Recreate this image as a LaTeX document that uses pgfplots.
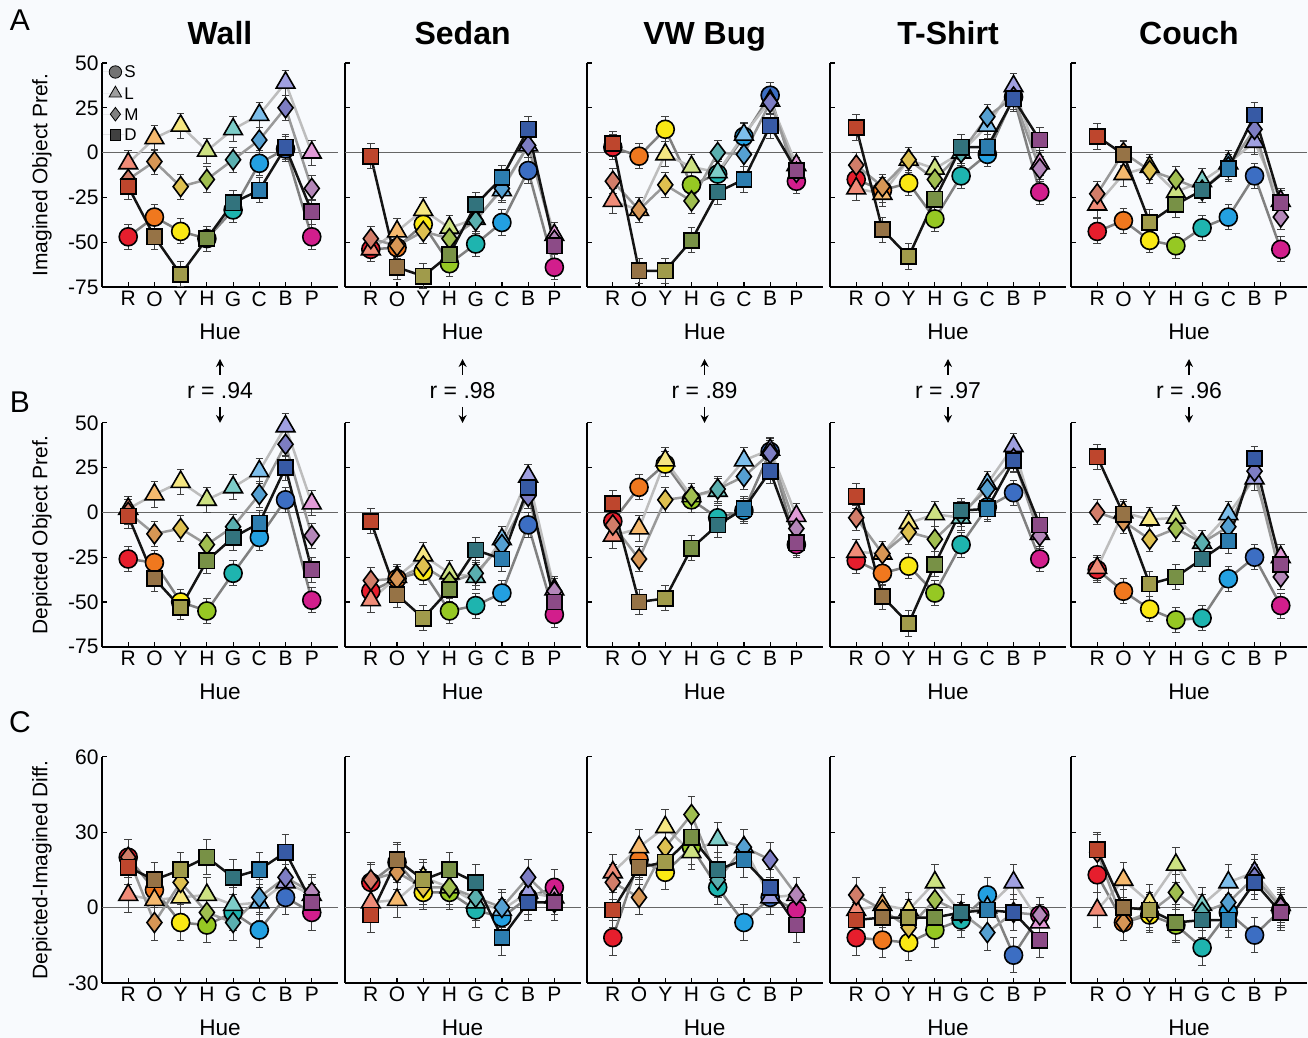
\documentclass[border=0pt]{standalone}
\usepackage{pgfplots}
\pgfplotsset{compat=1.18}
\usepackage{pgfplotstable}
\usepackage{fontspec}
\setmainfont{Liberation Sans}
\usetikzlibrary{arrows.meta}

\definecolor{bg}{RGB}{248,250,253}
\definecolor{lineS}{gray}{0.50}
\definecolor{lineL}{gray}{0.74}
\definecolor{lineM}{gray}{0.60}
\definecolor{lineD}{gray}{0.08}
% saturated
\definecolor{cS0}{RGB}{230,30,45}\definecolor{cS1}{RGB}{240,120,30}\definecolor{cS2}{RGB}{250,232,20}\definecolor{cS3}{RGB}{150,200,35}
\definecolor{cS4}{RGB}{30,180,175}\definecolor{cS5}{RGB}{35,160,225}\definecolor{cS6}{RGB}{60,110,195}\definecolor{cS7}{RGB}{210,30,140}
% light
\definecolor{cL0}{RGB}{240,140,120}\definecolor{cL1}{RGB}{245,185,110}\definecolor{cL2}{RGB}{245,230,130}\definecolor{cL3}{RGB}{205,225,130}
\definecolor{cL4}{RGB}{125,205,200}\definecolor{cL5}{RGB}{125,190,235}\definecolor{cL6}{RGB}{160,160,225}\definecolor{cL7}{RGB}{225,155,215}
% muted
\definecolor{cM0}{RGB}{210,125,105}\definecolor{cM1}{RGB}{215,150,85}\definecolor{cM2}{RGB}{222,192,80}\definecolor{cM3}{RGB}{160,190,80}
\definecolor{cM4}{RGB}{90,175,175}\definecolor{cM5}{RGB}{85,160,210}\definecolor{cM6}{RGB}{125,125,195}\definecolor{cM7}{RGB}{180,135,185}
% dark
\definecolor{cD0}{RGB}{190,70,45}\definecolor{cD1}{RGB}{150,115,70}\definecolor{cD2}{RGB}{160,155,75}\definecolor{cD3}{RGB}{120,145,70}
\definecolor{cD4}{RGB}{50,115,125}\definecolor{cD5}{RGB}{45,125,175}\definecolor{cD6}{RGB}{55,90,165}\definecolor{cD7}{RGB}{140,75,135}

% ---------------- data (x: 0=R,1=O,2=Y,3=H,4=G,5=C,6=B,7=P) ----------------
\pgfplotstableread{
x S L M D
0 -47 -6 -15 -19
1 -36 8 -5 -47
2 -44 15 -19 -68
3 -48 1 -15 -48
4 -32 13 -4 -28
5 -6 21 7 -21
6 2 39 25 3
7 -47 0 -20 -33
}\WallA
\pgfplotstableread{
x S L M D
0 -54 -54 -48 -2
1 -53 -44 -52 -64
2 -40 -32 -44 -69
3 -62 -42 -48 -57
4 -51 -37 -38 -29
5 -39 -21 -20 -14
6 -10 4 4 13
7 -64 -46 -49 -52
}\SedanA
\pgfplotstableread{
x S L M D
0 3 -27 -16 5
1 -2 -32 -32 -66
2 13 -1 -18 -66
3 -18 -8 -27 -49
4 -12 -11 0 -22
5 9 10 -1 -15
6 32 29 28 15
7 -16 -7 -11 -10
}\BugA
\pgfplotstableread{
x S L M D
0 -15 -20 -7 14
1 -21 -23 -19 -43
2 -17 -4 -4 -58
3 -37 -9 -15 -26
4 -13 0 0 3
5 -1 15 20 3
6 31 37 31 30
7 -22 -6 -9 7
}\ShirtA
\pgfplotstableread{
x S L M D
0 -44 -29 -23 9
1 -38 -12 0 -1
2 -49 -8 -10 -39
3 -52 -22 -15 -29
4 -42 -16 -21 -21
5 -36 -6 -8 -9
6 -13 6 13 21
7 -54 -27 -36 -28
}\CouchA
\pgfplotstableread{
x S L M D
0 -26 2 0 -2
1 -28 10 -12 -37
2 -50 17 -9 -53
3 -55 7 -18 -27
4 -34 14 -8 -14
5 -14 23 10 -6
6 7 48 38 25
7 -49 5 -13 -32
}\WallB
\pgfplotstableread{
x S L M D
0 -44 -49 -38 -5
1 -37 -36 -37 -46
2 -33 -24 -30 -59
3 -55 -34 -39 -43
4 -52 -36 -34 -21
5 -45 -15 -18 -26
6 -7 20 9 14
7 -57 -43 -44 -50
}\SedanB
\pgfplotstableread{
x S L M D
0 -5 -13 -7 5
1 14 -9 -26 -50
2 27 29 7 -48
3 7 9 9 -20
4 -3 12 13 -7
5 1 29 20 2
6 34 35 33 23
7 -18 -2 -9 -17
}\BugB
\pgfplotstableread{
x S L M D
0 -27 -22 -3 9
1 -34 -23 -23 -47
2 -30 -6 -11 -62
3 -45 -1 -15 -29
4 -18 -3 -1 1
5 3 16 13 2
6 11 37 30 29
7 -26 -12 -13 -7
}\ShirtB
\pgfplotstableread{
x S L M D
0 -32 -31 0 31
1 -44 0 -5 -1
2 -54 -4 -15 -40
3 -60 -3 -9 -36
4 -59 -17 -17 -26
5 -37 -1 -8 -16
6 -25 19 23 30
7 -52 -25 -36 -29
}\CouchB
\pgfplotstableread{
x S L M D
0 20 5 20 16
1 7 3 -6 11
2 -6 4 10 15
3 -7 5 -2 20
4 -2 1 -6 12
5 -9 2 4 15
6 4 10 12 22
7 -2 5 6 2
}\WallC
\pgfplotstableread{
x S L M D
0 10 2 11 -3
1 18 3 14 19
2 6 12 8 11
3 6 8 8 15
4 -1 2 4 10
5 -4 -1 0 -12
6 4 6 12 2
7 8 4 2 2
}\SedanC
\pgfplotstableread{
x S L M D
0 -12 14 10 -1
1 19 24 4 16
2 14 32 24 18
3 24 22 37 28
4 8 27 11 15
5 -6 24 24 19
6 4 4 19 8
7 -1 5 5 -7
}\BugC
\pgfplotstableread{
x S L M D
0 -12 -1 5 -5
1 -13 1 -1 -4
2 -14 -1 -8 -4
3 -9 10 3 -4
4 -5 -2 -2 -2
5 5 0 -10 -1
6 -19 10 -2 -2
7 -3 -6 -3 -13
}\ShirtC
\pgfplotstableread{
x S L M D
0 13 -1 22 23
1 -6 11 -6 0
2 -3 2 -2 -1
3 -7 17 6 -6
4 -16 1 -2 -5
5 -2 10 2 -5
6 -11 14 12 10
7 -1 1 0 -2
}\CouchC

\pgfplotsset{
 ser/.style={forget plot, scatter, point meta=explicit symbolic, line width=1.25pt,
   mark options={line width=0.8pt, solid},
   error bars/y dir=both,
   error bars/error bar style={line width=0.5pt, black!75},
   error bars/error mark options={rotate=90, mark size=1.9pt, line width=0.5pt, black!75}},
 sS/.style={ser, draw=lineS, mark=*, mark size=4.5pt,
   scatter/classes={0={draw=black,fill=cS0},1={draw=black,fill=cS1},2={draw=black,fill=cS2},3={draw=black,fill=cS3},
                    4={draw=black,fill=cS4},5={draw=black,fill=cS5},6={draw=black,fill=cS6},7={draw=black,fill=cS7}}},
 sL/.style={ser, draw=lineL, mark=triangle*, mark size=5.4pt,
   scatter/classes={0={draw=black,fill=cL0},1={draw=black,fill=cL1},2={draw=black,fill=cL2},3={draw=black,fill=cL3},
                    4={draw=black,fill=cL4},5={draw=black,fill=cL5},6={draw=black,fill=cL6},7={draw=black,fill=cL7}}},
 sM/.style={ser, draw=lineM, mark=diamond*, mark size=5pt,
   scatter/classes={0={draw=black,fill=cM0},1={draw=black,fill=cM1},2={draw=black,fill=cM2},3={draw=black,fill=cM3},
                    4={draw=black,fill=cM4},5={draw=black,fill=cM5},6={draw=black,fill=cM6},7={draw=black,fill=cM7}}},
 sD/.style={ser, draw=lineD, mark=square*, mark size=3.8pt,
   scatter/classes={0={draw=black,fill=cD0},1={draw=black,fill=cD1},2={draw=black,fill=cD2},3={draw=black,fill=cD3},
                    4={draw=black,fill=cD4},5={draw=black,fill=cD5},6={draw=black,fill=cD6},7={draw=black,fill=cD7}}},
 panel/.style={
   scale only axis, width=118pt, anchor=south west, clip=false,
   xmin=-1, xmax=8, axis lines*=left,
   axis line style={line width=0.9pt, black},
   xtick={0,...,7}, xticklabels={R,O,Y,H,G,C,B,P},
   tick align=inside, major tick length=2.5pt,
   tick style={line width=0.6pt, black},
   tick label style={font=\fontsize{10.5}{12}\selectfont},
   /pgf/number format/assume math mode=true,
   xticklabel style={inner sep=1pt, yshift=-1pt},
   yticklabel style={inner sep=1.5pt},
   xlabel={Hue},
   xlabel style={font=\fontsize{11.3}{13}\selectfont, at={(axis description cs:0.5,0)}, anchor=center, yshift=-22.5pt},
 },
 rowAB/.style={height=112pt, ymin=-75, ymax=50, ytick={-75,-50,-25,0,25,50}},
 rowC/.style={height=113pt, ymin=-30, ymax=60, ytick={-30,0,30,60}},
 noyl/.style={yticklabels={}},
}

\newcommand\panel[6]{%
\begin{axis}[panel, at={(#1,#2)}, #4]
\addplot[forget plot, no markers, black!60, line width=0.6pt] coordinates {(-1,0) (8,0)};
\addplot[sS, error bars/y fixed=#5] table[x=x,y=S,meta=x] {#3};
\addplot[sL, error bars/y fixed=#5] table[x=x,y=L,meta=x] {#3};
\addplot[sM, error bars/y fixed=#5] table[x=x,y=M,meta=x] {#3};
\addplot[sD, error bars/y fixed=#5] table[x=x,y=D,meta=x] {#3};
#6
\end{axis}}

\begin{document}
\begin{tikzpicture}
\fill[bg] (0,0) rectangle (654pt,519pt);
\useasboundingbox (0,0) rectangle (654pt,519pt);

% Row A
\panel{51pt}{375.5pt}{\WallA}{rowAB,
  legend style={at={(axis description cs:0,1)}, anchor=north west, yshift=-1.2pt, draw=none, fill=none,
    font=\fontsize{8.5}{8.5}\selectfont, row sep=4pt, inner sep=0pt,
    nodes={inner sep=0pt, text height=6pt, text depth=0pt}},
  legend cell align=left,
  legend image code/.code={\path (0pt,0pt) -- (11pt,0pt);\draw[#1] plot coordinates {(6.5pt,0pt)};}}{7}{%
  \addlegendimage{only marks, mark=*, mark size=3.1pt, draw=none, fill=black!55}\addlegendentry{S}
  \addlegendimage{only marks, mark=triangle*, mark size=3.6pt, draw=none, fill=black!38}\addlegendentry{L}
  \addlegendimage{only marks, mark=diamond*, mark size=3.4pt, draw=none, fill=black!50}\addlegendentry{M}
  \addlegendimage{only marks, mark=square*, mark size=2.7pt, draw=none, fill=black!75}\addlegendentry{D}}
\panel{172.3pt}{375.5pt}{\SedanA}{rowAB, noyl}{7}{}
\panel{293.3pt}{375.5pt}{\BugA}{rowAB, noyl}{7}{}
\panel{415pt}{375.5pt}{\ShirtA}{rowAB, noyl}{7}{}
\panel{535.5pt}{375.5pt}{\CouchA}{rowAB, noyl}{7}{}

% Row B
\panel{51pt}{195.6pt}{\WallB}{rowAB}{7}{}
\panel{172.3pt}{195.6pt}{\SedanB}{rowAB, noyl}{7}{}
\panel{293.3pt}{195.6pt}{\BugB}{rowAB, noyl}{7}{}
\panel{415pt}{195.6pt}{\ShirtB}{rowAB, noyl}{7}{}
\panel{535.5pt}{195.6pt}{\CouchB}{rowAB, noyl}{7}{}

% Row C
\panel{51pt}{27.6pt}{\WallC}{rowC}{7}{}
\panel{172.3pt}{27.6pt}{\SedanC}{rowC, noyl}{7}{}
\panel{293.3pt}{27.6pt}{\BugC}{rowC, noyl}{7}{}
\panel{415pt}{27.6pt}{\ShirtC}{rowC, noyl}{7}{}
\panel{535.5pt}{27.6pt}{\CouchC}{rowC, noyl}{7}{}

% titles
\foreach \cx/\t in {110/Wall, 231.3/Sedan, 352.3/VW Bug, 474/T-Shirt, 594.5/Couch}
  \node[font=\bfseries\fontsize{16}{18}\selectfont, anchor=base] at (\cx pt,496.8pt) {\t};
% correlations
\foreach \cx/\r in {110/.94, 231.3/.98, 352.3/.89, 474/.97, 594.5/.96}{
  \node[font=\fontsize{11.5}{13}\selectfont] at (\cx pt,323.5pt) {r = \r};
  \draw[-{Stealth[length=4pt,width=4pt]}, line width=0.8pt] (\cx pt,331.5pt) -- (\cx pt,339.5pt);
  \draw[-{Stealth[length=4pt,width=4pt]}, line width=0.8pt] (\cx pt,315.5pt) -- (\cx pt,307.5pt);
}
% row letters
\node[font=\fontsize{15}{16}\selectfont] at (10pt,509pt) {A};
\node[font=\fontsize{15}{16}\selectfont] at (10pt,318pt) {B};
\node[font=\fontsize{15}{16}\selectfont] at (10pt,158pt) {C};
% y labels
\node[rotate=90, font=\fontsize{10.5}{12}\selectfont] at (21pt,431.5pt) {Imagined Object Pref.};
\node[rotate=90, font=\fontsize{10.5}{12}\selectfont] at (21pt,251.5pt) {Depicted Object Pref.};
\node[rotate=90, font=\fontsize{10.5}{12}\selectfont] at (21pt,84pt) {Depicted-Imagined Diff.};
\end{tikzpicture}
\end{document}
